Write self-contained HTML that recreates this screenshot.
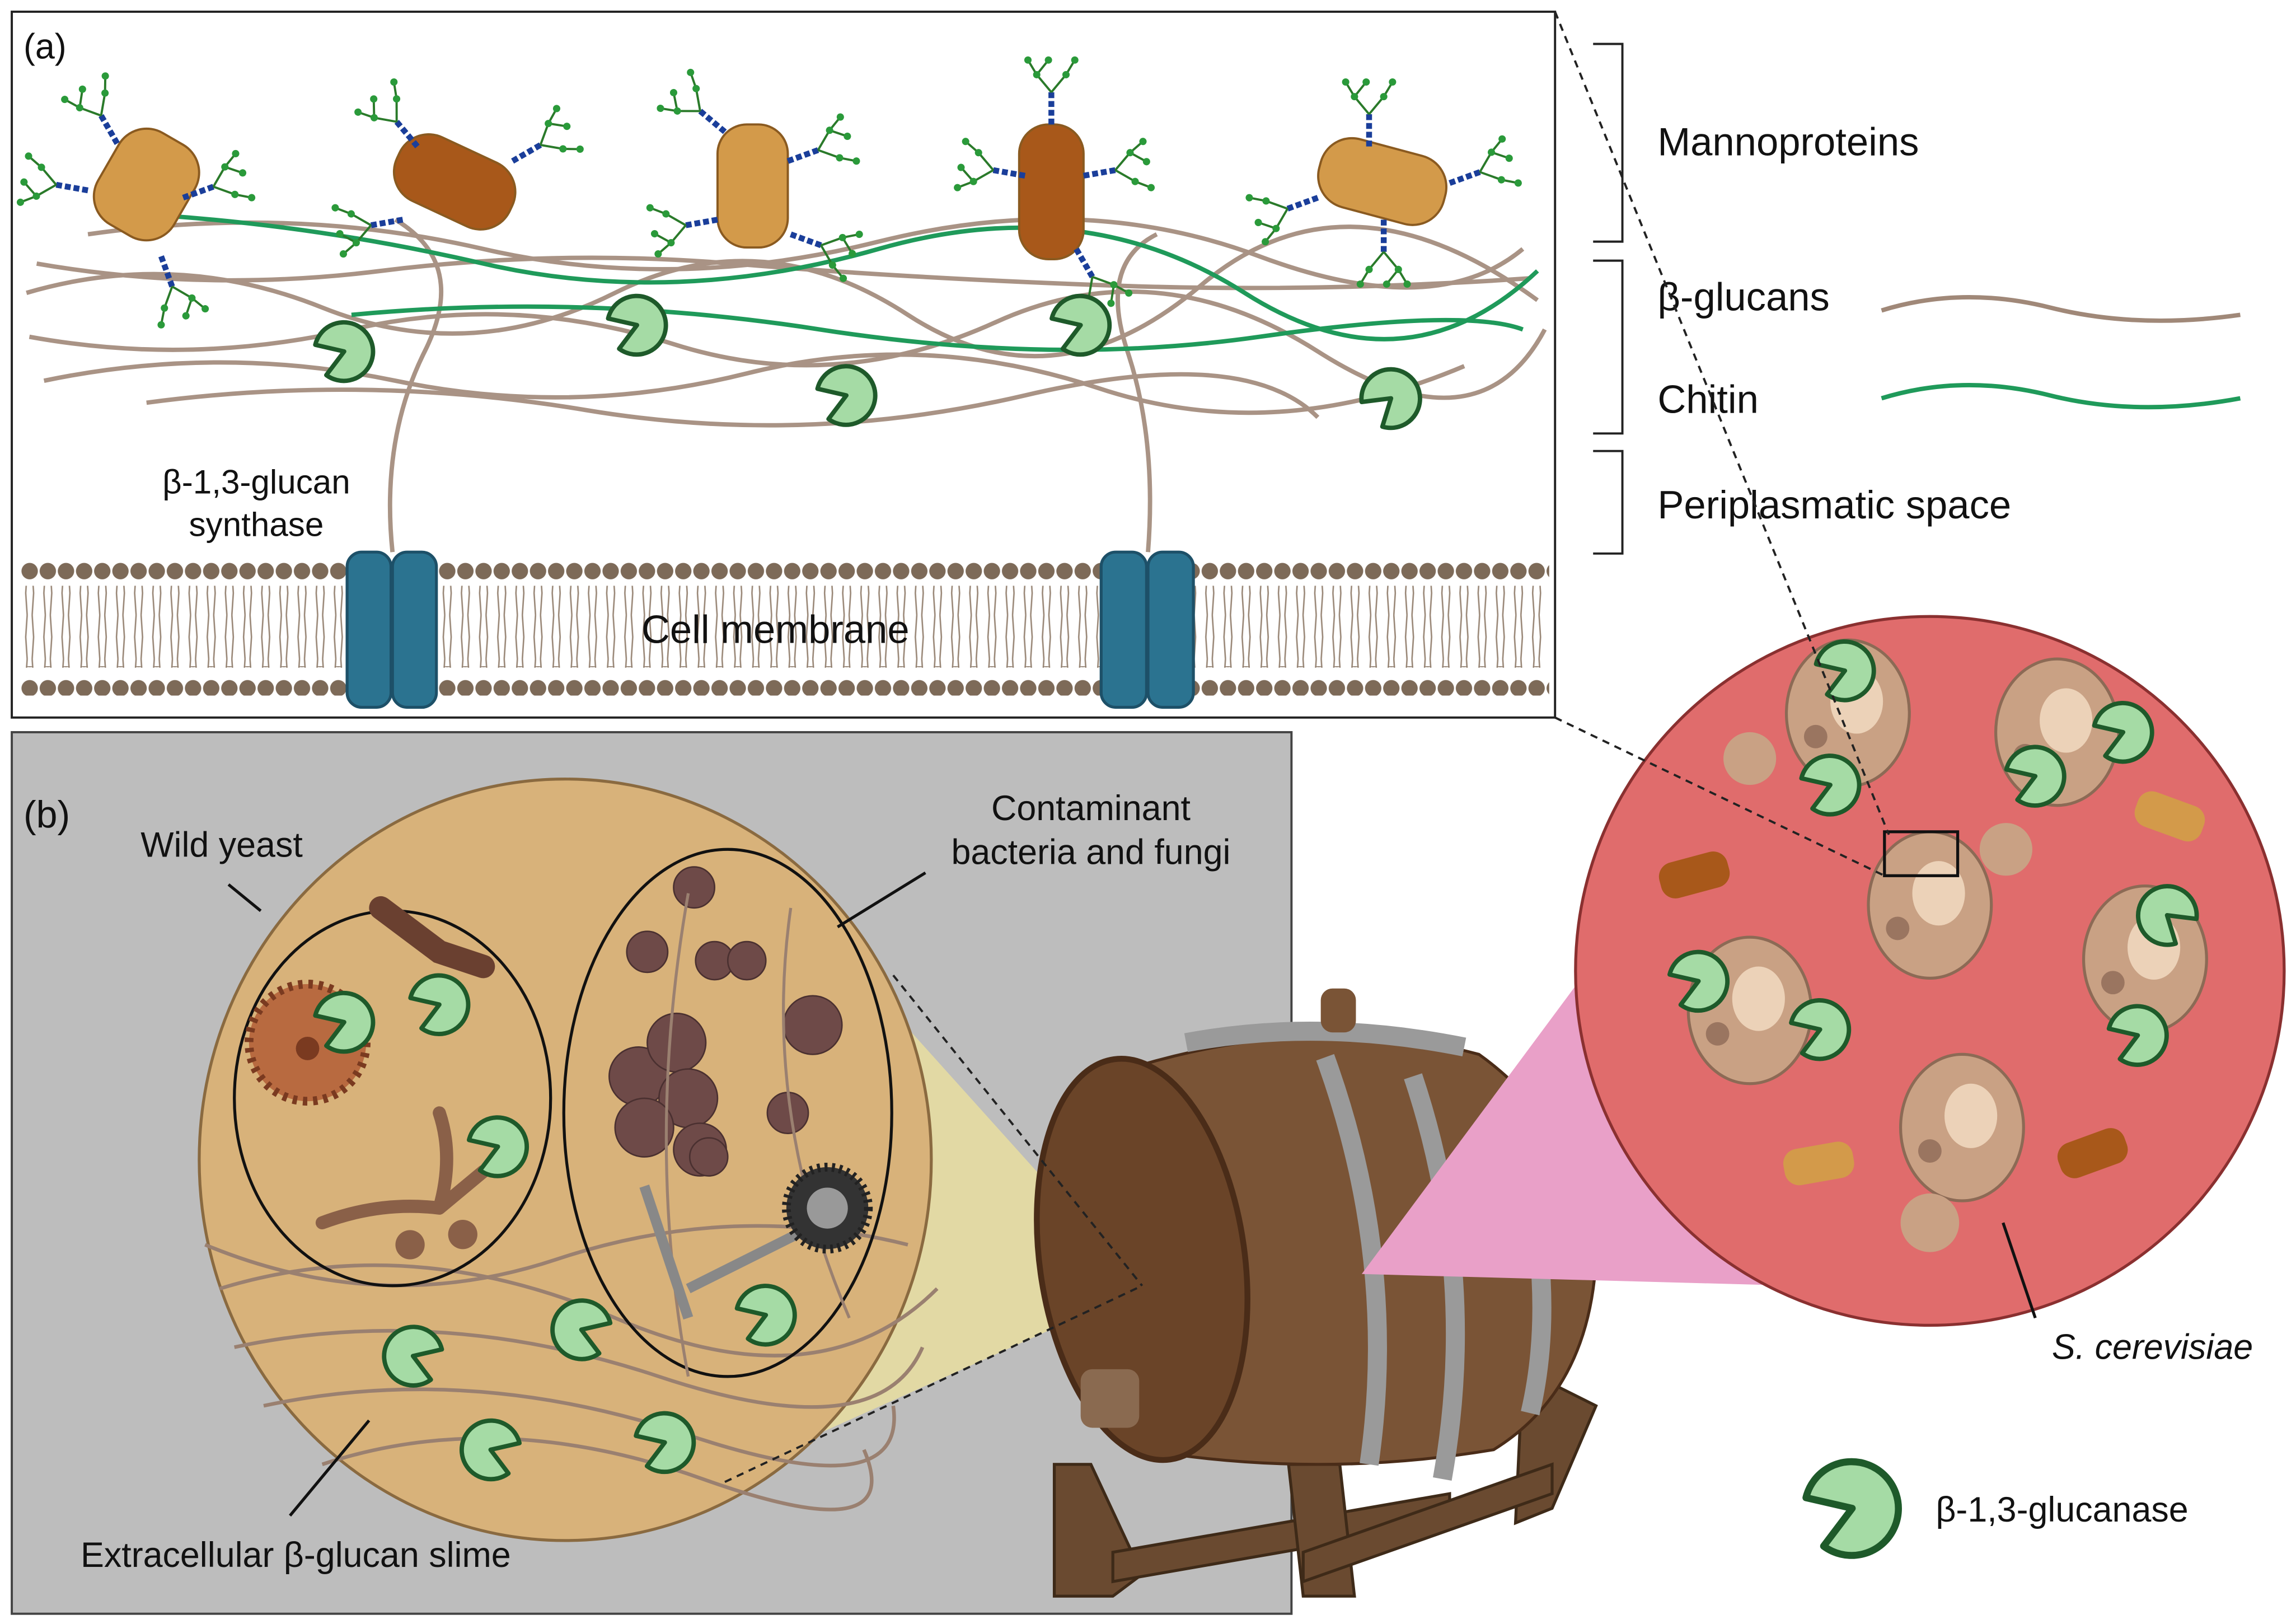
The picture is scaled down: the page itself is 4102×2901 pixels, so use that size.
<!DOCTYPE html>
<html><head><meta charset="utf-8"><style>
html,body{margin:0;padding:0;background:#fff;}
svg{display:block;}
text{font-family:"Liberation Sans",sans-serif;fill:#111;}
</style></head><body>
<svg width="4102" height="2901" viewBox="0 0 1568 1109" xmlns="http://www.w3.org/2000/svg">
<defs>
<pattern id="heads" x="14" y="0" width="12.4" height="20" patternUnits="userSpaceOnUse"><circle cx="6.2" cy="10" r="5.6" fill="#7d6a58"/></pattern>
<pattern id="tailp" x="14" y="0" width="12.4" height="30" patternUnits="userSpaceOnUse"><path d="M4.5,0 L3.5,15 L4.5,30 M7.9,0 L8.9,15 L7.9,30" stroke="#9a8878" stroke-width="1" fill="none"/></pattern>
<g id="pac"><path d="M0,0 L17,-11 A20,20 0 1 0 17,11 Z" fill="#a5dba5" stroke="#1e5a2a" stroke-width="3" stroke-linejoin="round"/></g>
<g id="glyc" stroke="#1a3e9a" stroke-width="4" fill="none"><line x1="0" y1="0" x2="0" y2="-22" stroke-dasharray="4 2"/><g stroke="#2a7a2a" stroke-width="1.5"><line x1="0" y1="-22" x2="-10" y2="-34"/><line x1="0" y1="-22" x2="10" y2="-34"/><line x1="-10" y1="-34" x2="-16" y2="-44"/><line x1="-10" y1="-34" x2="-2" y2="-44"/><line x1="10" y1="-34" x2="16" y2="-44"/></g><g fill="#2a9a3a" stroke="none"><circle cx="-10" cy="-34" r="2.5"/><circle cx="10" cy="-34" r="2.5"/><circle cx="-16" cy="-44" r="2.5"/><circle cx="-2" cy="-44" r="2.5"/><circle cx="16" cy="-44" r="2.5"/></g></g>
<g id="cell"><ellipse cx="0" cy="0" rx="42" ry="50" fill="#c9a184" stroke="#8c6a55" stroke-width="2"/><ellipse cx="6" cy="-8" rx="18" ry="22" fill="#ecd2b8"/><circle cx="-22" cy="16" r="8" fill="#9a7560"/></g>
</defs>
<rect width="1568" height="1109" fill="#fff"/>
<!-- Panel a -->
<rect x="8" y="8" width="1054" height="482" fill="#fff" stroke="#222" stroke-width="1.5"/>
<text x="16" y="40" font-size="24">(a)</text>
<rect x="14" y="400" width="1044" height="56" fill="url(#tailp)"/>
<rect x="14" y="383" width="1044" height="20" fill="url(#heads)"/>
<rect x="14" y="455" width="1044" height="20" fill="url(#heads)"/>
<g fill="#2b7390" stroke="#1d5068" stroke-width="2">
<rect x="237" y="377" width="30" height="106" rx="10"/><rect x="268" y="377" width="30" height="106" rx="10"/>
<rect x="752" y="377" width="31" height="106" rx="10"/><rect x="784" y="377" width="31" height="106" rx="10"/>
</g>
<text x="438" y="439" font-size="27">Cell membrane</text>
<text x="175" y="337" font-size="23" text-anchor="middle">β-1,3-glucan</text>
<text x="175" y="366" font-size="23" text-anchor="middle">synthase</text>
<g fill="none" stroke="#a08878" stroke-width="3" opacity="0.9">
<path d="M18,200 Q120,170 220,210 T420,200 T620,215 T820,195 T1050,205"/>
<path d="M20,230 Q130,250 240,225 T460,235 T680,220 T900,240 T1055,225"/>
<path d="M30,260 Q150,235 270,260 T510,255 T750,265 T1000,250"/>
<path d="M60,160 Q200,140 330,170 T600,165 T860,175 T1040,170"/>
<path d="M25,180 Q140,200 260,185 T500,180 T760,195 T1045,190"/>
<path d="M100,275 Q250,255 400,280 T700,270 T900,285"/>
<path d="M268,377 Q260,300 290,240 T270,150"/>
<path d="M784,377 Q790,300 770,240 T790,160"/>
</g>
<g fill="none" stroke="#1f9a5a" stroke-width="3">
<path d="M70,145 Q200,150 330,180 T600,170 T850,200 T1050,185"/>
<path d="M240,215 Q400,200 560,225 T860,230 T1040,225"/>
</g>
<g stroke="#8a5a20" stroke-width="1.5">
<rect x="70" y="90" width="60" height="72" rx="22" fill="#d39a4a" transform="rotate(30 100 126)"/>
<rect x="268" y="100" width="85" height="48" rx="22" fill="#a8581a" transform="rotate(25 310 124)"/>
<rect x="490" y="85" width="48" height="84" rx="20" fill="#d39a4a"/>
<rect x="696" y="85" width="44" height="92" rx="20" fill="#a8581a"/>
<rect x="900" y="100" width="88" height="48" rx="22" fill="#d39a4a" transform="rotate(15 944 124)"/>
</g>
<use href="#glyc" x="80" y="98" transform="rotate(-30 80 98)"/>
<use href="#glyc" x="125" y="135" transform="rotate(70 125 135)"/>
<use href="#glyc" x="110" y="175" transform="rotate(160 110 175)"/>
<use href="#glyc" x="60" y="130" transform="rotate(-80 60 130)"/>
<use href="#glyc" x="285" y="100" transform="rotate(-40 285 100)"/>
<use href="#glyc" x="350" y="110" transform="rotate(60 350 110)"/>
<use href="#glyc" x="275" y="150" transform="rotate(-100 275 150)"/>
<use href="#glyc" x="495" y="90" transform="rotate(-50 495 90)"/>
<use href="#glyc" x="538" y="110" transform="rotate(70 538 110)"/>
<use href="#glyc" x="490" y="150" transform="rotate(-100 490 150)"/>
<use href="#glyc" x="540" y="160" transform="rotate(110 540 160)"/>
<use href="#glyc" x="718" y="85"/>
<use href="#glyc" x="700" y="120" transform="rotate(-80 700 120)"/>
<use href="#glyc" x="740" y="120" transform="rotate(80 740 120)"/>
<use href="#glyc" x="735" y="170" transform="rotate(150 735 170)"/>
<use href="#glyc" x="935" y="100"/>
<use href="#glyc" x="990" y="125" transform="rotate(70 990 125)"/>
<use href="#glyc" x="900" y="135" transform="rotate(-110 900 135)"/>
<use href="#glyc" x="945" y="150" transform="rotate(180 945 150)"/>
<use href="#pac" x="235" y="240" transform="rotate(160 235 240)"/>
<use href="#pac" x="435" y="222" transform="rotate(160 435 222)"/>
<use href="#pac" x="578" y="270" transform="rotate(160 578 270)"/>
<use href="#pac" x="738" y="222" transform="rotate(160 738 222)"/>
<use href="#pac" x="950" y="272" transform="rotate(140 950 272)"/>
<g fill="none" stroke="#222" stroke-width="1.5">
<path d="M1088,30 H1108 V165 H1088"/>
<path d="M1088,178 H1108 V296 H1088"/>
<path d="M1088,308 H1108 V378 H1088"/>
</g>
<text x="1132" y="106" font-size="27">Mannoproteins</text>
<text x="1132" y="212" font-size="27">β-glucans</text>
<text x="1132" y="282" font-size="27">Chitin</text>
<text x="1132" y="354" font-size="27">Periplasmatic space</text>
<path d="M1285,212 Q1340,195 1400,210 T1530,215" fill="none" stroke="#a08878" stroke-width="3"/>
<path d="M1285,272 Q1340,255 1400,270 T1530,272" fill="none" stroke="#1f9a5a" stroke-width="3"/>
<!-- Panel b -->
<rect x="8" y="500" width="874" height="602" fill="#bdbdbd" stroke="#444" stroke-width="1.5"/>
<text x="16" y="565" font-size="26">(b)</text>
<!-- barrel stand -->
<g fill="#6a4a30" stroke="#3e2a18" stroke-width="2">
<polygon points="720,1000 745,1000 780,1075 760,1090 720,1090"/>
<polygon points="760,1060 990,1020 990,1040 760,1080"/>
<polygon points="880,1000 915,1000 925,1090 890,1090"/>
<polygon points="1040,935 1090,960 1060,1030 1035,1040"/>
<polygon points="890,1060 1060,1000 1060,1020 890,1080"/>
</g>
<polygon points="600,680 780,880 490,1010" fill="#e2d9a4"/>
<ellipse cx="386" cy="792" rx="250" ry="260" fill="#d8b27a" stroke="#8a6a40" stroke-width="2"/>
<g fill="none" stroke="#9a8070" stroke-width="2.5">
<path d="M150,880 Q280,840 420,900 T640,880"/>
<path d="M160,920 Q300,890 450,940 T630,920"/>
<path d="M180,960 Q320,930 470,980 T610,960"/>
<path d="M220,1000 Q340,960 480,1010 T590,990"/>
<path d="M140,850 Q260,900 380,860 T620,850"/>
</g>
<ellipse cx="268" cy="750" rx="108" ry="128" fill="none" stroke="#111" stroke-width="2"/>
<ellipse cx="497" cy="760" rx="112" ry="180" fill="none" stroke="#111" stroke-width="2"/>
<circle cx="210" cy="712" r="40" fill="#b86a40" stroke="#7a3a20" stroke-width="6" stroke-dasharray="3 4"/>
<circle cx="210" cy="716" r="8" fill="#7a3a20"/>
<path d="M260,620 L300,650 L330,660" stroke="#6a4030" stroke-width="16" fill="none" stroke-linecap="round"/>
<path d="M220,835 Q260,820 300,825 M300,825 Q310,790 300,760 M300,825 L330,800" stroke="#8a6048" stroke-width="9" fill="none" stroke-linecap="round"/>
<circle cx="280" cy="850" r="10" fill="#8a6048"/><circle cx="316" cy="843" r="10" fill="#8a6048"/>
<g fill="#6e4a48" stroke="#4a3030">
<circle cx="474" cy="606" r="14"/><circle cx="442" cy="650" r="14"/><circle cx="488" cy="656" r="13"/><circle cx="510" cy="656" r="13"/>
<circle cx="436" cy="735" r="20"/><circle cx="462" cy="712" r="20"/><circle cx="470" cy="750" r="20"/><circle cx="440" cy="770" r="20"/><circle cx="478" cy="785" r="18"/><circle cx="484" cy="790" r="13"/>
<circle cx="555" cy="700" r="20"/><circle cx="538" cy="760" r="14"/>
</g>
<g fill="none" stroke="#9a8070" stroke-width="2"><path d="M470,610 Q440,780 470,940"/><path d="M540,620 Q520,760 580,900"/></g>
<path d="M440,810 L470,900 M470,880 L550,840" stroke="#888" stroke-width="7" fill="none"/>
<circle cx="565" cy="825" r="28" fill="#333" stroke="#222" stroke-width="6" stroke-dasharray="2 3"/><circle cx="565" cy="825" r="14" fill="#999"/>
<use href="#pac" x="235" y="698" transform="rotate(160 235 698)"/>
<use href="#pac" x="300" y="686" transform="rotate(160 300 686)"/>
<use href="#pac" x="340" y="783" transform="rotate(160 340 783)"/>
<use href="#pac" x="282" y="926" transform="rotate(20 282 926)"/>
<use href="#pac" x="397" y="908" transform="rotate(20 397 908)"/>
<use href="#pac" x="523" y="898" transform="rotate(160 523 898)"/>
<use href="#pac" x="335" y="990" transform="rotate(20 335 990)"/>
<use href="#pac" x="454" y="985" transform="rotate(160 454 985)"/>
<g stroke="#111" stroke-width="2"><line x1="178" y1="622" x2="156" y2="604"/><line x1="572" y1="633" x2="632" y2="596"/><line x1="252" y1="970" x2="198" y2="1035"/></g>
<text x="96" y="585" font-size="24">Wild yeast</text>
<text x="745" y="560" font-size="24" text-anchor="middle">Contaminant</text>
<text x="745" y="590" font-size="24" text-anchor="middle">bacteria and fungi</text>
<text x="55" y="1070" font-size="24">Extracellular β-glucan slime</text>
<!-- barrel body -->
<path d="M770,730 Q900,690 1010,720 Q1080,770 1090,860 Q1085,950 1020,990 Q900,1010 780,990 Z" fill="#7a5436" stroke="#4a2c18" stroke-width="2"/>
<ellipse cx="780" cy="860" rx="70" ry="138" fill="#6a4428" stroke="#4a2c18" stroke-width="4" transform="rotate(-8 780 860)"/>
<g fill="none" stroke="#9a9a9a" stroke-width="13">
<path d="M810,712 Q900,695 1000,715"/><path d="M905,722 Q955,860 935,1000"/><path d="M965,735 Q1010,870 985,1010"/><path d="M1035,770 Q1065,880 1045,965"/>
</g>
<rect x="902" y="675" width="24" height="30" rx="8" fill="#7a5436"/>
<rect x="738" y="935" width="40" height="40" rx="8" fill="#8a6a50"/>
<!-- pink triangle & red circle -->
<polygon points="930,870 1160,560 1300,880" fill="#e9a0c8"/>
<circle cx="1318" cy="663" r="242" fill="#e06c6c" stroke="#8a3030" stroke-width="2"/>
<use href="#cell" x="1262" y="487"/>
<use href="#cell" x="1405" y="500"/>
<use href="#cell" x="1318" y="618"/>
<use href="#cell" x="1195" y="690"/>
<use href="#cell" x="1465" y="655"/>
<use href="#cell" x="1340" y="770"/>
<circle cx="1195" cy="518" r="18" fill="#c9a184"/><circle cx="1318" cy="835" r="20" fill="#c9a184"/><circle cx="1370" cy="580" r="18" fill="#c9a184"/>
<use href="#pac" x="1260" y="458" transform="rotate(160 1260 458)"/>
<use href="#pac" x="1250" y="536" transform="rotate(160 1250 536)"/>
<use href="#pac" x="1450" y="500" transform="rotate(160 1450 500)"/>
<use href="#pac" x="1390" y="530" transform="rotate(160 1390 530)"/>
<use href="#pac" x="1480" y="625" transform="rotate(40 1480 625)"/>
<use href="#pac" x="1160" y="670" transform="rotate(160 1160 670)"/>
<use href="#pac" x="1243" y="703" transform="rotate(160 1243 703)"/>
<use href="#pac" x="1460" y="707" transform="rotate(160 1460 707)"/>
<rect x="1133" y="585" width="48" height="25" rx="10" fill="#a8581a" transform="rotate(-15 1157 597)"/>
<rect x="1458" y="545" width="48" height="25" rx="10" fill="#d39a4a" transform="rotate(20 1482 557)"/>
<rect x="1218" y="782" width="48" height="25" rx="10" fill="#d39a4a" transform="rotate(-10 1242 794)"/>
<rect x="1405" y="775" width="48" height="25" rx="10" fill="#a8581a" transform="rotate(-20 1429 787)"/>
<rect x="1287" y="568" width="50" height="30" fill="none" stroke="#111" stroke-width="2"/>
<line x1="1368" y1="835" x2="1390" y2="900" stroke="#111" stroke-width="2"/>
<text x="1470" y="928" font-size="24" font-style="italic" text-anchor="middle">S. cerevisiae</text>
<g stroke="#222" stroke-width="1.5" stroke-dasharray="5 4" fill="none">
<line x1="1062" y1="8" x2="1290" y2="570"/>
<line x1="1062" y1="490" x2="1287" y2="598"/>
<line x1="610" y1="666" x2="780" y2="878"/>
<line x1="495" y1="1012" x2="780" y2="878"/>
</g>
<use href="#pac" x="1265" y="1030" transform="scale(1.6) translate(-474.4 -386.25) rotate(160 1265 1030)"/>
<text x="1322" y="1039" font-size="24">β-1,3-glucanase</text>
</svg>
</body></html>
